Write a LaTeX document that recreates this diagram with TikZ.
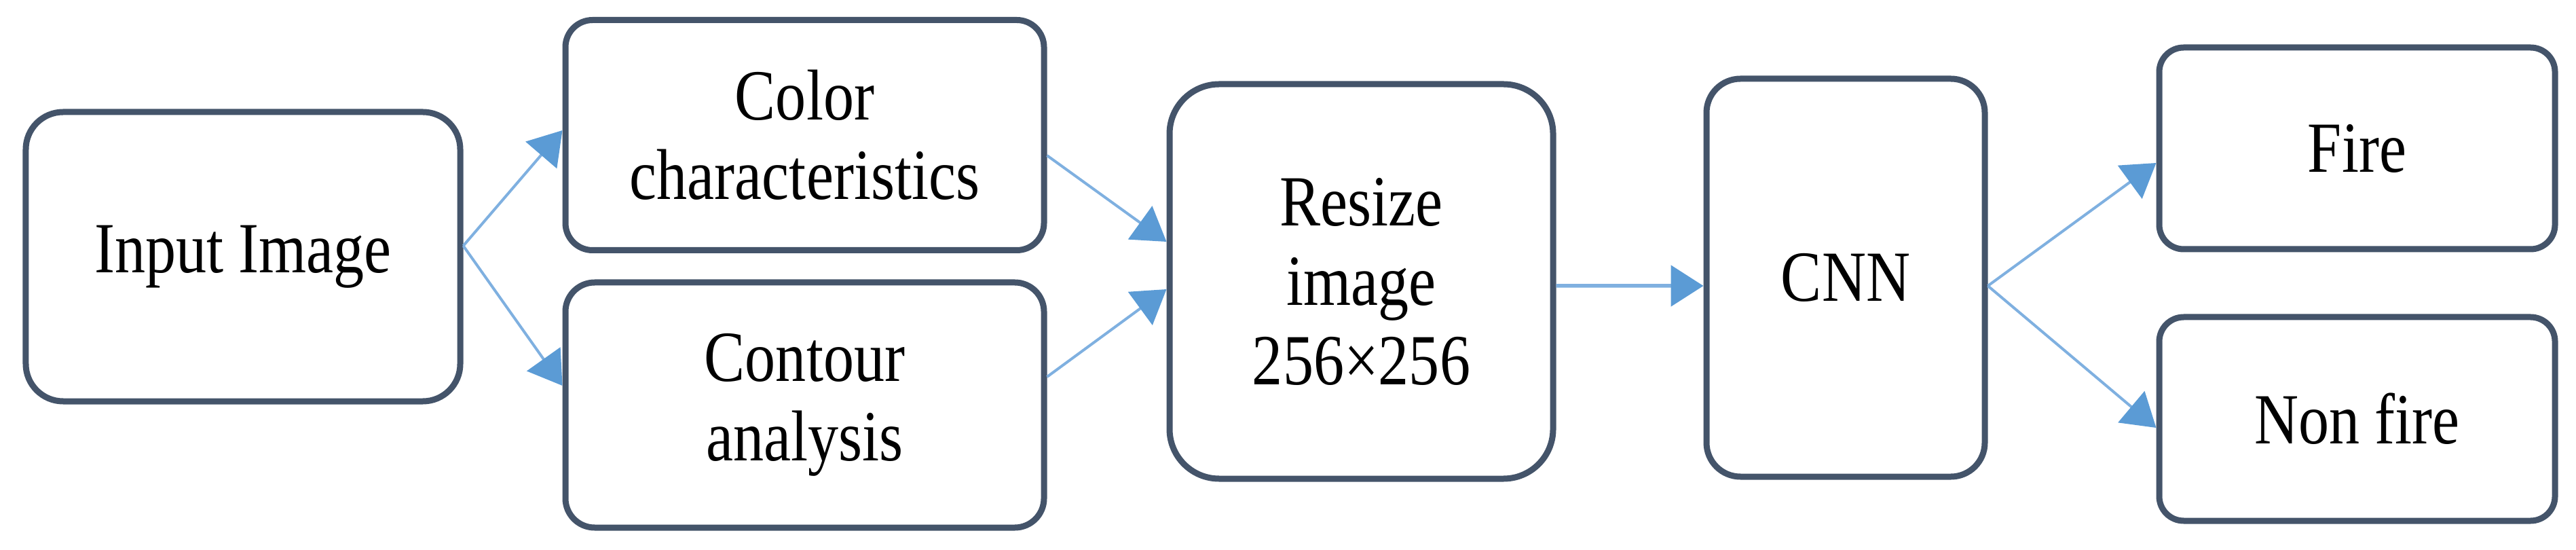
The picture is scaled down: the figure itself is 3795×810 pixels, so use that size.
\documentclass[tikz,border=0pt]{standalone}
\usepackage{fontspec}
\setmainfont[FakeStretch=0.85]{Liberation Serif}
\usetikzlibrary{arrows.meta}
\definecolor{boxline}{HTML}{44546A}
\definecolor{arrowblue}{HTML}{5B9BD5}
\definecolor{arrowline}{HTML}{7FB0E0}
\tikzset{
  box/.style={draw=boxline, line width=1.8pt, fill=white, rectangle, align=center,
    inner sep=0pt, font=\fontsize{21.2pt}{23.4pt}\selectfont, text=black},
  flow/.style={draw=arrowline, line width=0.8pt,
    -{Triangle[length=9.6pt,width=12pt,color=arrowblue]}}
}
\begin{document}
\begin{tikzpicture}[x=0.2pt,y=-0.2pt]
\useasboundingbox (0,0) rectangle (3795,810);
\node[box, minimum width=128pt, minimum height=85.2pt, rounded corners=11pt] (in) at (358,378) {Input Image};
\node[box, minimum width=141pt, minimum height=67.8pt, rounded corners=8pt] (color) at (1185.5,199) {Color\\characteristics};
\node[box, minimum width=141pt, minimum height=72.2pt, rounded corners=8.6pt] (contour) at (1185.5,596.5) {Contour\\analysis};
\node[box, minimum width=113pt, minimum height=116.2pt, rounded corners=14.6pt] (resize) at (2005.5,414.5) {Resize\\image\\256×256};
\node[box, minimum width=82pt, minimum height=117.2pt, rounded corners=10pt] (cnn) at (2719,409) {CNN};
\node[box, minimum width=116.6pt, minimum height=59.4pt, rounded corners=7.2pt] (fire) at (3472.5,218.5) {Fire};
\node[box, minimum width=116.6pt, minimum height=60pt, rounded corners=7.2pt] (nonfire) at (3472.5,617) {Non fire};

\draw[flow] ([yshift=3.2pt]in.east) -- ([yshift=1.4pt]color.west);
\draw[flow] ([yshift=3.2pt]in.east) -- ([yshift=5.7pt]contour.west);
\draw[flow] ([yshift=-6pt]color.east) -- ([yshift=11.7pt]resize.west);
\draw[flow] ([yshift=8.3pt]contour.east) -- ([yshift=-2.3pt]resize.west);
\draw[flow, line width=1.1pt] ([yshift=-1.3pt]resize.east) -- ([yshift=-2.4pt]cnn.west);
\draw[flow] ([yshift=-2.4pt]cnn.east) -- ([yshift=-4.3pt]fire.west);
\draw[flow] ([yshift=-2.4pt]cnn.east) -- ([yshift=-2.6pt]nonfire.west);
\end{tikzpicture}
\end{document}
